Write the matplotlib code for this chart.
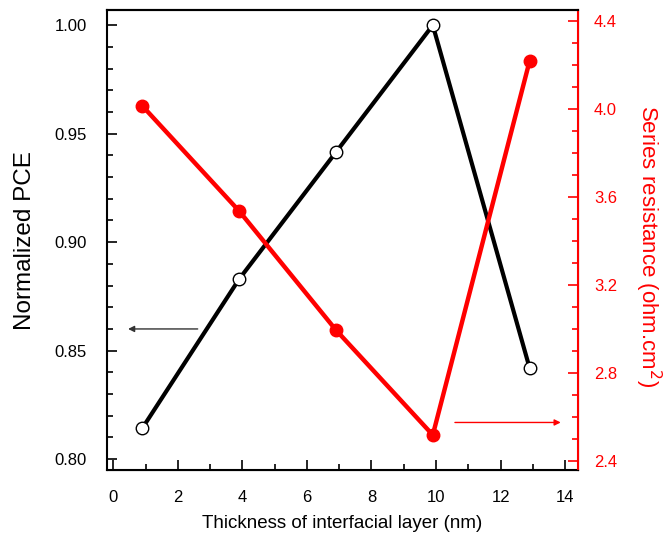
import matplotlib
matplotlib.use('Agg')
import matplotlib.pyplot as plt
from matplotlib.ticker import MultipleLocator

plt.rcParams['font.family'] = ['Liberation Sans', 'DejaVu Sans']

thickness = [0.9, 3.9, 6.9, 9.9, 12.9]
pce_norm = [0.8143, 0.883, 0.9415, 1.000, 0.842]
series_res = [4.014, 3.536, 2.995, 2.518, 4.218]

fig = plt.figure(figsize=(6.7, 5.47), dpi=100)
ax = fig.add_axes([0.16, 0.1408, 0.7027, 0.8409])
ax2 = ax.twinx()

ax.plot(thickness, pce_norm, color='black', lw=3, marker='o', ms=9,
        mfc='white', mec='black', mew=1, zorder=3)
ax2.plot(thickness, series_res, color='red', lw=3.2, marker='o', ms=9,
         mfc='red', mec='red', zorder=3)

ax.set_xlim(-0.19, 14.4)
ax.set_ylim(0.795, 1.007)
ax2.set_ylim(2.359, 4.45)

ax.xaxis.set_major_locator(MultipleLocator(2))
ax.xaxis.set_minor_locator(MultipleLocator(1))
ax.yaxis.set_major_locator(MultipleLocator(0.05))
ax.yaxis.set_minor_locator(MultipleLocator(0.01))
ax2.yaxis.set_major_locator(MultipleLocator(0.4))
ax2.yaxis.set_minor_locator(MultipleLocator(0.1))
ax.yaxis.set_major_formatter(plt.FormatStrFormatter('%.2f'))
ax2.yaxis.set_major_formatter(plt.FormatStrFormatter('%.1f'))

ax.tick_params(axis='both', which='major', direction='in', length=7, width=1.2,
               labelsize=12)
ax.tick_params(axis='x', which='major', pad=14.5)
ax.tick_params(axis='y', which='major', pad=14.5)
ax.tick_params(axis='both', which='minor', direction='in', length=4, width=1.2)
ax.tick_params(top=False, right=False, which='both')
ax2.tick_params(axis='y', which='major', direction='in', length=7, width=1.2,
                colors='red', labelsize=12, pad=11.5)
ax2.tick_params(axis='y', which='minor', direction='in', length=4, width=1.2,
                colors='red')

for sp in ['left', 'bottom', 'top']:
    ax.spines[sp].set_linewidth(1.5)
ax2.spines['right'].set_color('red')
ax2.spines['right'].set_linewidth(1.5)
ax2.spines['left'].set_visible(False)
ax2.spines['top'].set_linewidth(1.5)

# axis titles placed where the original has them
fig.text(342 / 670, 1 - 524 / 547, 'Thickness of interfacial layer (nm)',
         fontsize=13.5, ha='center', va='center')
fig.text(25 / 670, 1 - 241 / 547, 'Normalized PCE', fontsize=17.5,
         rotation=90, ha='center', va='center')
fig.text(648 / 670, 1 - 246 / 547, 'Series resistance (ohm.cm$^2$)',
         fontsize=16, color='red', rotation=270, ha='center', va='center')

# arrows pointing to the axes
ax.annotate('', xy=(0.37, 0.86), xytext=(2.7, 0.86),
            arrowprops=dict(arrowstyle='-|>', color='#333333', lw=1,
                            mutation_scale=9))
ax2.annotate('', xy=(13.95, 2.575), xytext=(10.5, 2.575),
             arrowprops=dict(arrowstyle='-|>', color='red', lw=1,
                             mutation_scale=9))

fig.savefig('out.png', dpi=100)
